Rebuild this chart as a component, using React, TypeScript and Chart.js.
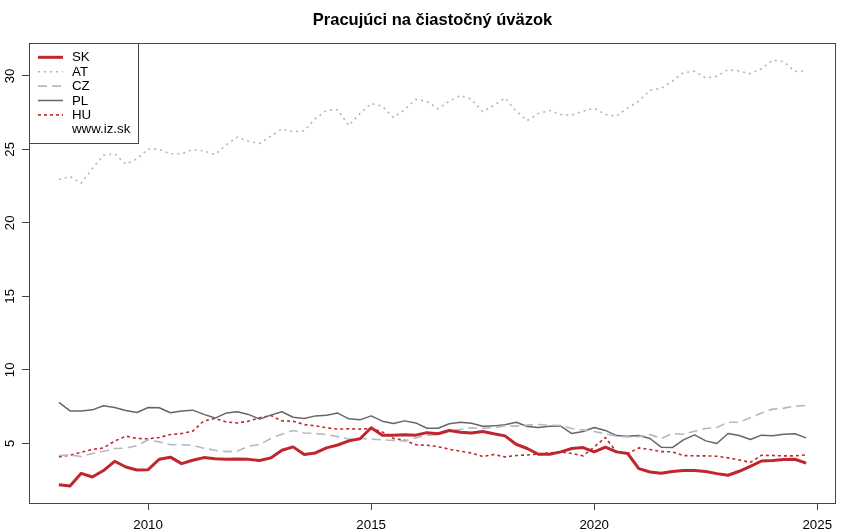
import React, { useEffect, useRef } from "react";
import { Chart, registerables } from "chart.js";

Chart.register(...registerables);

const TITLE = "Pracujúci na čiastočný úväzok";
const SOURCE = "www.iz.sk";

const quarters: string[] = [];
for (let y = 2008; y <= 2024; y++) for (let q = 1; q <= 4; q++) quarters.push(`${y}Q${q}`);

const SK = [
  2.18, 2.09, 2.95, 2.70, 3.14, 3.77, 3.38, 3.18, 3.20, 3.91,
  4.05, 3.61, 3.84, 4.02, 3.95, 3.91, 3.92, 3.90, 3.82, 4.00,
  4.52, 4.75, 4.23, 4.34, 4.68, 4.88, 5.16, 5.30, 6.05, 5.55,
  5.55, 5.57, 5.55, 5.72, 5.64, 5.87, 5.75, 5.70, 5.80, 5.64,
  5.50, 4.93, 4.64, 4.25, 4.25, 4.41, 4.64, 4.70, 4.41, 4.73,
  4.41, 4.30, 3.27, 3.04, 2.95, 3.07, 3.14, 3.14, 3.07, 2.93,
  2.82, 3.09, 3.43, 3.79, 3.82, 3.89, 3.91, 3.64,
];
const AT = [
  22.95, 23.15, 22.70, 23.70, 24.60, 24.70, 24.00, 24.35, 25.03, 25.00,
  24.70, 24.70, 24.99, 24.90, 24.65, 25.30, 25.83, 25.55, 25.40, 25.90,
  26.40, 26.20, 26.25, 27.10, 27.65, 27.70, 26.62, 27.44, 28.12, 27.94,
  27.17, 27.70, 28.40, 28.26, 27.76, 28.28, 28.67, 28.40, 27.56, 28.00,
  28.49, 27.60, 26.96, 27.44, 27.65, 27.37, 27.33, 27.60, 27.80, 27.37,
  27.26, 27.83, 28.28, 29.03, 29.15, 29.65, 30.22, 30.31, 29.85, 29.97,
  30.42, 30.33, 30.15, 30.49, 31.08, 30.97, 30.31, 30.35,
];
const CZ = [
  4.16, 4.20, 4.09, 4.30, 4.45, 4.64, 4.66, 4.84, 5.23, 5.09,
  4.89, 4.89, 4.86, 4.66, 4.52, 4.43, 4.46, 4.80, 4.91, 5.32,
  5.61, 5.87, 5.70, 5.66, 5.59, 5.45, 5.27, 5.34, 5.27, 5.23,
  5.18, 5.16, 5.36, 5.55, 5.57, 5.80, 5.93, 6.05, 6.02, 6.07,
  6.18, 6.16, 6.23, 6.27, 6.23, 6.20, 6.00, 5.91, 5.80, 5.64,
  5.48, 5.43, 5.45, 5.59, 5.32, 5.66, 5.61, 5.82, 6.00, 6.07,
  6.43, 6.43, 6.73, 7.05, 7.32, 7.39, 7.52, 7.57,
];
const PL = [
  7.78, 7.20, 7.20, 7.27, 7.55, 7.43, 7.23, 7.09, 7.43, 7.41,
  7.07, 7.20, 7.25, 6.96, 6.71, 7.05, 7.14, 6.96, 6.64, 6.91,
  7.14, 6.77, 6.68, 6.86, 6.91, 7.05, 6.66, 6.59, 6.86, 6.50,
  6.34, 6.52, 6.38, 6.02, 6.02, 6.32, 6.43, 6.36, 6.16, 6.18,
  6.25, 6.43, 6.14, 6.07, 6.16, 6.16, 5.66, 5.80, 6.07, 5.87,
  5.52, 5.48, 5.52, 5.32, 4.73, 4.70, 5.23, 5.57, 5.16, 4.98,
  5.66, 5.52, 5.25, 5.55, 5.50, 5.61, 5.64, 5.36,
];
const HU = [
  4.07, 4.18, 4.39, 4.57, 4.68, 5.14, 5.48, 5.32, 5.30, 5.39,
  5.59, 5.66, 5.82, 6.52, 6.68, 6.45, 6.38, 6.50, 6.73, 6.89,
  6.52, 6.50, 6.27, 6.18, 6.05, 5.96, 5.98, 5.96, 6.00, 5.77,
  5.32, 5.20, 4.89, 4.86, 4.77, 4.59, 4.45, 4.34, 4.09, 4.23,
  4.07, 4.16, 4.20, 4.27, 4.34, 4.41, 4.30, 4.14, 4.75, 5.39,
  4.41, 4.30, 4.68, 4.57, 4.43, 4.41, 4.16, 4.14, 4.14, 4.11,
  4.00, 3.86, 3.70, 4.18, 4.16, 4.14, 4.14, 4.20,
];

const xTicks = [2010, 2015, 2020, 2025];
const yTicks = [5, 10, 15, 20, 25, 30];

const FONT = "'Liberation Sans', Arial, Helvetica, sans-serif";
const AXIS_COLOR = "#444444";
const RED = "#c0262d";
const LABEL_SIZE = 13.3;

function toX(q: string): number {
  const [y, qq] = q.split("Q");
  return Number(y) + (Number(qq) - 1) / 4;
}

function series(values: number[]) {
  return values.map((v, i) => ({ x: toX(quarters[i]), y: v }));
}

const seriesDefs = [
  { label: "SK", data: SK, color: RED, width: 3, dash: [] as number[] },
  { label: "AT", data: AT, color: "#b4b4b8", width: 1.6, dash: [2, 4] },
  { label: "CZ", data: CZ, color: "#b3b9c3", width: 1.6, dash: [9, 5] },
  { label: "PL", data: PL, color: "#666666", width: 1.5, dash: [] as number[] },
  { label: "HU", data: HU, color: RED, width: 1.6, dash: [3, 3] },
];

export default function App() {
  const ref = useRef<HTMLCanvasElement | null>(null);

  useEffect(() => {
    if (!ref.current) return;
    const xs = quarters.map(toX);
    const xMinD = Math.min(...xs);
    const xMaxD = Math.max(...xs);
    const xPad = (xMaxD - xMinD) * 0.04;
    const all = [...SK, ...AT, ...CZ, ...PL, ...HU];
    const yMinD = Math.min(...all);
    const yMaxD = Math.max(...all);
    const yPad = (yMaxD - yMinD) * 0.04;

    const decor = {
      id: "decor",
      afterDraw(chart: any) {
        const ctx = chart.ctx;
        const area = chart.chartArea;
        const yScale = chart.scales.y;
        ctx.save();
        // frame
        ctx.strokeStyle = AXIS_COLOR;
        ctx.lineWidth = 1;
        ctx.strokeRect(Math.round(area.left) + 0.5, Math.round(area.top) + 0.5,
          Math.round(area.right - area.left) - 1, Math.round(area.bottom - area.top));
        // title
        ctx.fillStyle = "#000";
        ctx.font = `bold 16.5px ${FONT}`;
        ctx.textAlign = "center";
        ctx.textBaseline = "middle";
        ctx.fillText(TITLE, (area.left + area.right) / 2, 20);
        // y labels (rotated)
        ctx.font = `${LABEL_SIZE}px ${FONT}`;
        for (const v of yTicks) {
          const py = yScale.getPixelForValue(v);
          ctx.save();
          ctx.translate(10.5, py);
          ctx.rotate(-Math.PI / 2);
          ctx.textAlign = "center";
          ctx.textBaseline = "middle";
          ctx.fillText(String(v), 0, 0);
          ctx.restore();
        }
        // legend
        const lx = Math.round(area.left) + 0.5;
        const ly = Math.round(area.top) + 0.5;
        ctx.fillStyle = "#fff";
        ctx.fillRect(lx, ly, 109, 100);
        ctx.strokeStyle = AXIS_COLOR;
        ctx.strokeRect(lx, ly, 109, 100);
        const rowH = 14.4;
        const y0 = 57.3;
        chart.data.datasets.forEach((ds: any, i: number) => {
          const yy = y0 + i * rowH;
          ctx.save();
          ctx.strokeStyle = ds.borderColor;
          ctx.lineWidth = ds.borderWidth;
          ctx.setLineDash(ds.borderDash || []);
          ctx.beginPath();
          ctx.moveTo(38, yy);
          ctx.lineTo(63, yy);
          ctx.stroke();
          ctx.restore();
          ctx.fillStyle = "#000";
          ctx.font = `${LABEL_SIZE}px ${FONT}`;
          ctx.textAlign = "left";
          ctx.textBaseline = "middle";
          ctx.fillText(ds.label, 72, yy + 0.5);
        });
        ctx.fillStyle = "#000";
        ctx.font = `${LABEL_SIZE}px ${FONT}`;
        ctx.textAlign = "left";
        ctx.textBaseline = "middle";
        ctx.fillText(SOURCE, 72, y0 + 5 * rowH + 0.5);
        ctx.restore();
      },
    };

    const chart = new Chart(ref.current, {
      type: "line",
      data: {
        datasets: seriesDefs.map((s) => ({
          label: s.label,
          data: series(s.data),
          borderColor: s.color,
          backgroundColor: s.color,
          borderWidth: s.width,
          borderDash: s.dash,
          borderCapStyle: "butt",
          borderJoinStyle: "round",
          pointRadius: 0,
          tension: 0,
          fill: false,
        })),
      },
      options: {
        responsive: false,
        animation: false,
        layout: { padding: { left: 0, right: 14, top: 43, bottom: 0 } },
        plugins: {
          legend: { display: false },
          title: { display: false },
          tooltip: { enabled: false },
        },
        scales: {
          x: {
            type: "linear",
            min: xMinD - xPad,
            max: xMaxD + xPad,
            afterBuildTicks: (scale: any) => {
              scale.ticks = xTicks.map((v) => ({ value: v }));
            },
            afterFit: (scale: any) => {
              scale.height = 29;
            },
            border: { display: false },
            grid: {
              drawOnChartArea: false,
              drawTicks: true,
              tickLength: 7,
              color: AXIS_COLOR,
              lineWidth: 1,
            },
            ticks: {
              color: "#000",
              font: { family: FONT, size: LABEL_SIZE },
              padding: 7,
              maxRotation: 0,
              minRotation: 0,
              autoSkip: false,
              callback: (v: any) => String(v),
            },
          },
          y: {
            type: "linear",
            min: yMinD - yPad,
            max: yMaxD + yPad,
            afterBuildTicks: (scale: any) => {
              scale.ticks = yTicks.map((v) => ({ value: v }));
            },
            afterFit: (scale: any) => {
              scale.width = 29;
            },
            border: { display: false },
            grid: {
              drawOnChartArea: false,
              drawTicks: true,
              tickLength: 7,
              color: AXIS_COLOR,
              lineWidth: 1,
            },
            ticks: { display: false },
          },
        },
      },
      plugins: [decor],
    } as any);
    return () => chart.destroy();
  }, []);

  return (
    <div style={{ position: "absolute", left: 0, top: 0, width: 850, height: 532, background: "#fff" }}>
      <canvas ref={ref} width={850} height={532} style={{ display: "block" }} />
    </div>
  );
}
